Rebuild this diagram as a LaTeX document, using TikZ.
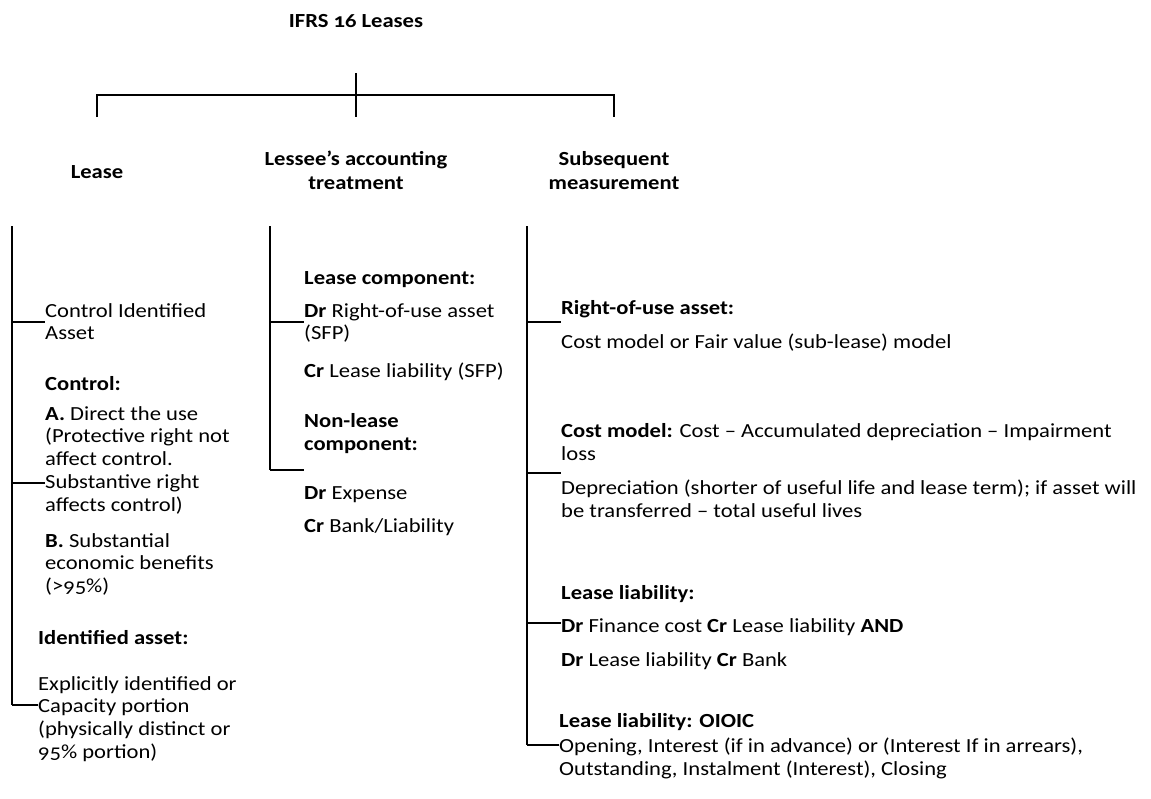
\documentclass[tikz,border=0pt]{standalone}
\usepackage{fontspec}
\setmainfont{Carlito}[Numbers=OldStyle, FakeStretch=1.13]
\begin{document}
\begin{tikzpicture}[x=1pt, y=-1pt,
  txt/.style={inner sep=0pt, anchor=north west, align=left,
    font=\fontsize{20}{22.8}\selectfont, execute at begin node={\strut}},
  head/.style={inner sep=0pt, anchor=north, align=center,
    font=\fontsize{20}{24}\selectfont\bfseries, execute at begin node={\strut}},
  rule/.style={line width=1.1pt, draw=black}]
\useasboundingbox (0,0) rectangle (1151,798);

% title and top bracket
\node[head] (title) at (356,10) {IFRS 16 Leases};
\coordinate (btop) at (356,73);
\coordinate (bmid) at (356,95);
\coordinate (bl) at (97,95);
\coordinate (br) at (614,95);
\coordinate (blb) at (97,117);
\coordinate (bmb) at (356,117);
\coordinate (brb) at (614,117);
\draw[rule] (btop) -- (bmb);
\draw[rule] (blb) -- (bl) -- (br) -- (brb);

% column headings
\node[head] (hlease) at (97,161) {Lease};
\node[head] (hlessee) at (356,151) {Lessee’s accounting\\treatment};
\node[head] (hsub) at (614,151) {Subsequent\\measurement};

% column 1: lease
\node[txt] (cia) at (45,303) {Control Identified\\Asset};
\node[txt] (ctl) at (45,374) {\textbf{Control:}};
\node[txt] (ca) at (45,406) {\textbf{A.} Direct the use\\(Protective right not\\affect control.\\Substantive right\\affects control)};
\node[txt] (cb) at (45,533) {\textbf{B.} Substantial\\economic benefits\\(>95\%)};
\node[txt] (ida) at (38,628) {\textbf{Identified asset:}};
\node[txt] (idb) at (38,676) {Explicitly identified or\\Capacity portion\\(physically distinct or\\95\% portion)};

\coordinate (l1top) at (12,226);
\coordinate (l1a) at (12,322);
\coordinate (l1b) at (12,483);
\coordinate (l1c) at (12,705);
\draw[rule] (l1top) -- (l1c);
\draw[rule] (l1a) -- (l1a -| cia.west);
\draw[rule] (l1b) -- (l1b -| ca.west);
\draw[rule] (l1c) -- (l1c -| idb.west);

% column 2: lessee's accounting treatment
\node[txt] (lc) at (304,268) {\textbf{Lease component:}};
\node[txt] (lcdr) at (304,303) {\textbf{Dr} Right-of-use asset\\(SFP)};
\node[txt] (lccr) at (304,361) {\textbf{Cr} Lease liability (SFP)};
\node[txt] (nlc) at (304,413) {\textbf{Non-lease}\\\textbf{component:}};
\node[txt] (nldr) at (304,483) {\textbf{Dr} Expense};
\node[txt] (nlcr) at (304,516) {\textbf{Cr} Bank/Liability};

\coordinate (l2top) at (270,226);
\coordinate (l2a) at (270,322);
\coordinate (l2b) at (270,470);
\draw[rule] (l2top) -- (l2b);
\draw[rule] (l2a) -- (l2a -| lcdr.west);
\draw[rule] (l2b) -- (l2b -| nldr.west);

% column 3: subsequent measurement
\node[txt] (rou) at (561,298) {\textbf{Right-of-use asset:}};
\node[txt] (rout) at (561,332) {Cost model or Fair value (sub-lease) model};
\node[txt] (cm) at (561,423) {\textbf{Cost model:} Cost – Accumulated depreciation – Impairment\\loss};
\node[txt] (dep) at (561,480) {Depreciation (shorter of useful life and lease term); if asset will\\be transferred – total useful lives};
\node[txt] (ll) at (561,583) {\textbf{Lease liability:}};
\node[txt] (lldr) at (561,616) {\textbf{Dr} Finance cost \textbf{Cr} Lease liability \textbf{AND}};
\node[txt] (llcr) at (561,650) {\textbf{Dr} Lease liability \textbf{Cr} Bank};
\node[txt] (oi) at (559,711) {\textbf{Lease liability: OIOIC}};
\node[txt] (oit) at (559,738) {Opening, Interest (if in advance) or (Interest If in arrears),\\Outstanding, Instalment (Interest), Closing};

\coordinate (l3top) at (527,226);
\coordinate (l3a) at (527,322);
\coordinate (l3b) at (527,473);
\coordinate (l3c) at (527,623);
\coordinate (l3d) at (527,745);
\draw[rule] (l3top) -- (l3d);
\draw[rule] (l3a) -- (l3a -| rou.west);
\draw[rule] (l3b) -- (l3b -| cm.west);
\draw[rule] (l3c) -- (l3c -| lldr.west);
\draw[rule] (l3d) -- (l3d -| oit.west);
\end{tikzpicture}
\end{document}
